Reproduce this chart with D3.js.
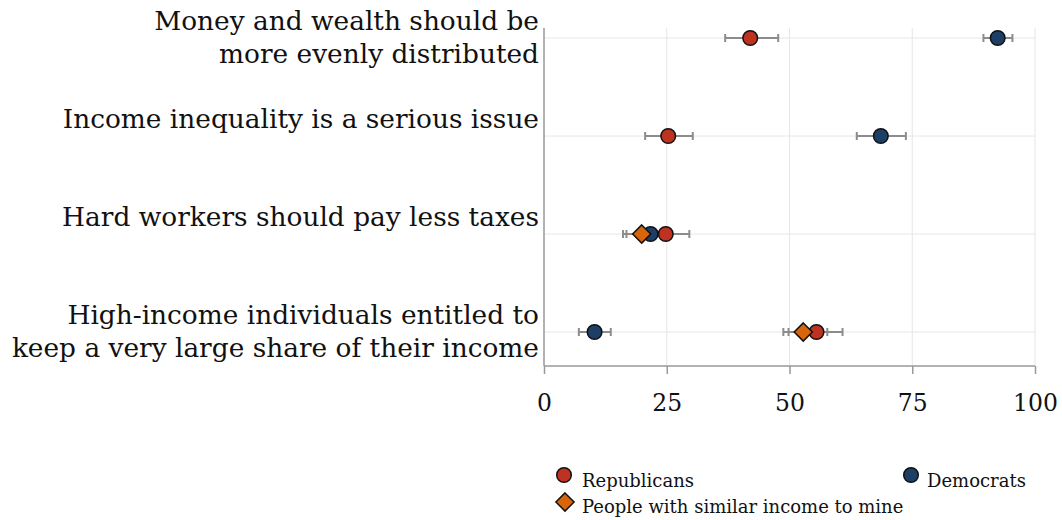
<!DOCTYPE html>
<html>
<head>
<meta charset="utf-8">
<script src="https://cdn.jsdelivr.net/npm/d3@7"></script>
<style>
  body { margin: 0; background: #fff; }
  text { font-family: "DejaVu Serif", serif; fill: #111; }
</style>
</head>
<body>
<div id="chart"></div>
<script>
// statements, one entry per row (split into lines)
var questions = [
    ["Money and wealth should be", "more evenly distributed"],
    ["Income inequality is a serious issue"],
    ["Hard workers should pay less taxes"],
    ["High-income individuals entitled to", "keep a very large share of their income"]
];
var xTicks = [0, 25, 50, 75, 100];

var repMean = [42.0, 25.3, 24.8, 55.5],
    repLo = [36.9, 20.6, 20.0, 49.8],
    repHi = [47.7, 30.3, 29.6, 60.8];
var demMean = [92.4, 68.6, 21.7, 10.3],
    demLo = [89.5, 63.7, 16.1, 7.1],
    demHi = [95.4, 73.7, 24.5, 13.6];
var peerMean = [null, null, 19.9, 52.8],
    peerLo = [null, null, 16.8, 48.75],
    peerHi = [null, null, 23.0, 57.7];

var legendNames = ["Republicans", "Democrats", "People with similar income to mine"];

var w = 1062, h = 520;
var colors = { rep: "#bd3221", dem: "#1d3f66", peer: "#d8640c" };

var svg = d3.select("#chart").append("svg")
    .attr("width", w)
    .attr("height", h);

var x = d3.scaleLinear().domain([0, 100]).range([544, 1035]);
var y = d3.scalePoint().domain(d3.range(questions.length)).range([38, 332]);
var plotTop = 28, plotBottom = 366;

// grid
svg.append("g").selectAll("line.vg")
    .data(xTicks.slice(1))
    .enter().append("line")
    .attr("x1", function (d) { return x(d); })
    .attr("x2", function (d) { return x(d); })
    .attr("y1", plotTop).attr("y2", plotBottom)
    .style("stroke", "#e6e6e6").style("stroke-width", 1);
svg.append("g").selectAll("line.hg")
    .data(d3.range(questions.length))
    .enter().append("line")
    .attr("x1", x(0)).attr("x2", x(100))
    .attr("y1", function (d) { return y(d); })
    .attr("y2", function (d) { return y(d); })
    .style("stroke", "#e6e6e6").style("stroke-width", 1);

// axes
var xAxis = d3.axisBottom(x).tickValues(xTicks).tickSize(8).tickPadding(20);
var gx = svg.append("g")
    .attr("transform", "translate(0," + plotBottom + ")")
    .call(xAxis);
gx.select(".domain").attr("d", "M" + x(0) + ",0H" + x(100)).style("stroke", "#999").style("stroke-width", 1.5);
gx.selectAll(".tick line").style("stroke", "#999").style("stroke-width", 1.5);
gx.selectAll(".tick text").style("font-size", "23.5px").style("font-family", "DejaVu Serif").style("fill", "#111");

svg.append("line")
    .attr("x1", x(0)).attr("x2", x(0))
    .attr("y1", plotTop).attr("y2", plotBottom)
    .style("stroke", "#999").style("stroke-width", 1.5);

// row labels
questions.forEach(function (lines, i) {
    var t = svg.append("text")
        .attr("text-anchor", "end")
        .style("font-size", "26.4px");
    lines.forEach(function (line, j) {
        t.append("tspan")
            .attr("x", 539)
            .attr("y", y(i) - 8 + j * 33)
            .text(line);
    });
});

// error bars
function errorBars(lo, hi) {
    var g = svg.append("g");
    lo.forEach(function (l, i) {
        if (l == null) return;
        var yy = y(i);
        g.append("line")
            .attr("x1", x(l)).attr("x2", x(hi[i]))
            .attr("y1", yy).attr("y2", yy)
            .style("stroke", "#8c8c8c").style("stroke-width", 2);
        [l, hi[i]].forEach(function (v) {
            g.append("line")
                .attr("x1", x(v)).attr("x2", x(v))
                .attr("y1", yy - 4).attr("y2", yy + 4)
                .style("stroke", "#8c8c8c").style("stroke-width", 2);
        });
    });
}
errorBars(repLo, repHi);
errorBars(demLo, demHi);
errorBars(peerLo, peerHi);

var diamond = d3.symbol().type(d3.symbolDiamond2).size(210);

function circles(vals, color) {
    svg.append("g").selectAll("circle")
        .data(vals.map(function (v, i) { return { v: v, i: i }; }).filter(function (d) { return d.v != null; }))
        .enter().append("circle")
        .attr("cx", function (d) { return x(d.v); })
        .attr("cy", function (d) { return y(d.i); })
        .attr("r", 7.3)
        .style("fill", color)
        .style("stroke", "#111").style("stroke-width", 1.5);
}
circles(repMean, colors.rep);
circles(demMean, colors.dem);

svg.append("g").selectAll("path")
    .data(peerMean.map(function (v, i) { return { v: v, i: i }; }).filter(function (d) { return d.v != null; }))
    .enter().append("path")
    .attr("d", diamond)
    .attr("transform", function (d) { return "translate(" + x(d.v) + "," + y(d.i) + ")"; })
    .style("fill", colors.peer)
    .style("stroke", "#111").style("stroke-width", 1.5);

// legend
var legend = svg.append("g");
var legendItems = [
    { name: legendNames[0], x: 564, y: 475, tx: 582, ty: 487, color: colors.rep, shape: "circle" },
    { name: legendNames[1], x: 911, y: 475, tx: 927, ty: 487, color: colors.dem, shape: "circle" },
    { name: legendNames[2], x: 565, y: 502, tx: 582, ty: 513, color: colors.peer, shape: "diamond" }
];
legendItems.forEach(function (d) {
    if (d.shape == "circle") {
        legend.append("circle")
            .attr("cx", d.x).attr("cy", d.y).attr("r", 7.3)
            .style("fill", d.color).style("stroke", "#111").style("stroke-width", 1.5);
    } else {
        legend.append("path")
            .attr("d", diamond)
            .attr("transform", "translate(" + d.x + "," + d.y + ")")
            .style("fill", d.color).style("stroke", "#111").style("stroke-width", 1.5);
    }
    legend.append("text")
        .attr("x", d.tx).attr("y", d.ty)
        .style("font-size", "18px")
        .text(d.name);
});
</script>
</body>
</html>
